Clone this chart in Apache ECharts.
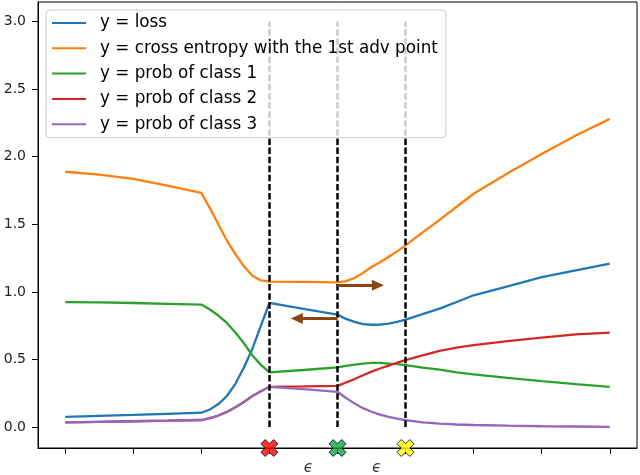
<!DOCTYPE html>
<html><head><meta charset="utf-8">
<script src="https://cdn.jsdelivr.net/npm/echarts@6/dist/echarts.min.js"></script>
<style>html,body{margin:0;padding:0;background:#fff}#c{width:640px;height:475px}</style>
</head><body><div id="c"></div>
<script>
// ---- data ----
const xs        = [0, 0.5, 1, 1.5, 2, 2.125, 2.25, 2.375, 2.5, 2.625, 2.75, 2.875, 3, 3.5, 4, 4.125, 4.25, 4.375, 4.5, 4.625, 4.75, 4.875, 5, 5.25, 5.5, 5.75, 6, 6.5, 7, 7.5, 8];
const loss      = [0.076, 0.083, 0.09, 0.098, 0.106, 0.13, 0.17, 0.23, 0.32, 0.44, 0.58, 0.75, 0.918, 0.875, 0.832, 0.80, 0.778, 0.762, 0.757, 0.758, 0.766, 0.778, 0.795, 0.835, 0.876, 0.925, 0.975, 1.041, 1.11, 1.16, 1.209];
const crossEnt  = [1.889, 1.868, 1.837, 1.787, 1.733, 1.62, 1.50, 1.38, 1.28, 1.19, 1.12, 1.085, 1.076, 1.074, 1.071, 1.08, 1.103, 1.14, 1.184, 1.22, 1.258, 1.30, 1.344, 1.44, 1.533, 1.63, 1.726, 1.878, 2.021, 2.157, 2.28];
const probC1    = [0.925, 0.922, 0.918, 0.912, 0.906, 0.87, 0.825, 0.77, 0.70, 0.62, 0.53, 0.46, 0.404, 0.422, 0.441, 0.452, 0.462, 0.47, 0.475, 0.475, 0.47, 0.465, 0.458, 0.44, 0.425, 0.405, 0.39, 0.364, 0.34, 0.318, 0.298];
const probC2    = [0.035, 0.039, 0.043, 0.047, 0.052, 0.066, 0.085, 0.112, 0.146, 0.185, 0.23, 0.265, 0.298, 0.301, 0.305, 0.33, 0.355, 0.383, 0.41, 0.433, 0.455, 0.476, 0.495, 0.53, 0.564, 0.587, 0.606, 0.635, 0.662, 0.685, 0.699];
const probC3    = [0.035, 0.039, 0.043, 0.047, 0.052, 0.066, 0.085, 0.112, 0.146, 0.185, 0.23, 0.265, 0.298, 0.28, 0.261, 0.215, 0.175, 0.14, 0.113, 0.092, 0.076, 0.063, 0.052, 0.035, 0.025, 0.019, 0.015, 0.01, 0.006, 0.004, 0.002];
const seriesNames = ['y = loss', 'y = cross entropy with the 1st adv point', 'y = prob of class 1', 'y = prob of class 2', 'y = prob of class 3'];
const xTicks = [0, 1, 2, 3, 4, 5, 6, 7, 8];
const yTicks = [0, 0.5, 1, 1.5, 2, 2.5, 3];
const advX = [3, 4, 5];                 // dashed verticals & cross markers
const advColors = ['#ff0000', '#10a844', '#ffff00'];
const vlineRange = [0, 3];
const epsX = [3.5, 4.5];
const arrowRight = [[4, 1.049], [4.593, 1.049]];
const arrowLeft  = [[4, 0.803], [3.402, 0.803]];
const X_MIN = -0.4, X_MAX = 8.4, Y_MIN = -0.155, Y_MAX = 3.145;

const colors = ['#1f77b4', '#ff7f0e', '#2ca02c', '#d62728', '#9467bd'];
const values = [loss, crossEnt, probC1, probC2, probC3];
const pair = arr => xs.map((x, i) => [x, arr[i]]);
const FONT = 'DejaVu Sans';

const lineSeries = values.map((v, i) => ({
  name: seriesNames[i], type: 'line', data: pair(v), symbol: 'none',
  lineStyle: { color: colors[i], width: 2.3 }, itemStyle: { color: colors[i] },
  z: 3
}));

const xPath = 'path://M0,2.5L2.5,0L5,2.5L7.5,0L10,2.5L7.5,5L10,7.5L7.5,10L5,7.5L2.5,10L0,7.5L2.5,5Z';
const triPath = 'path://M5,0L10,10L0,10Z';

const option = {
  animation: false,
  backgroundColor: '#fff',
  grid: { left: 38, right: 3, top: 2, bottom: 27, show: true, borderColor: '#000', borderWidth: 1, containLabel: false },
  xAxis: {
    type: 'value', min: X_MIN, max: X_MAX,
    axisLine: { show: true, onZero: false, lineStyle: { color: '#000', width: 1 } },
    axisTick: { show: true, length: 6, customValues: xTicks, lineStyle: { color: '#000' } },
    axisLabel: { show: false },
    splitLine: { show: false }
  },
  yAxis: {
    type: 'value', min: Y_MIN, max: Y_MAX,
    axisLine: { show: true, onZero: false, lineStyle: { color: '#000', width: 1 } },
    axisTick: { show: true, length: 6, customValues: yTicks, lineStyle: { color: '#000' } },
    axisLabel: { show: true, customValues: yTicks, margin: 12, fontSize: 14, fontFamily: FONT, color: '#222',
      formatter: v => v.toFixed(1) },
    splitLine: { show: false }
  },
  legend: {
    data: seriesNames.map((n, i) => ({ name: n, icon: 'rect', itemStyle: { color: colors[i] } })),
    orient: 'vertical', left: 46, top: 10,
    padding: [3.5, 8, 4, 6], itemGap: 6.3, itemWidth: 34, itemHeight: 2,
    backgroundColor: 'rgba(255,255,255,0.8)', borderColor: '#cccccc', borderWidth: 1, borderRadius: 4,
    textStyle: { fontSize: 16.8, fontFamily: FONT, color: '#000', lineHeight: 19, padding: [0, 0, 0, 9] },
    z: 10
  },
  series: [
    ...lineSeries,
    {
      name: 'vlines', type: 'line', data: [], symbol: 'none', silent: true, z: 2,
      markLine: {
        silent: true, symbol: ['none', 'none'], animation: false,
        label: { show: false },
        lineStyle: { color: '#000', width: 2.5, type: [6.5, 2.6] },
        data: advX.map(x => [{ coord: [x, vlineRange[0]] }, { coord: [x, vlineRange[1]] }])
      }
    },
    {
      name: 'arrows', type: 'line', data: [], symbol: 'none', silent: true, z: 5,
      markLine: {
        silent: true, symbol: ['none', triPath], symbolSize: [11, 12], animation: false,
        label: { show: false },
        lineStyle: { color: '#8B4513', width: 3.2, type: 'solid' },
        itemStyle: { color: '#8B4513' },
        data: [
          [{ coord: arrowRight[0] }, { coord: arrowRight[1] }],
          [{ coord: arrowLeft[0] }, { coord: arrowLeft[1] }]
        ]
      }
    },
    {
      name: 'adv', type: 'scatter', clip: false, symbol: xPath, symbolSize: 17, z: 6,
      data: advX.map((x, i) => ({ value: [x, Y_MIN], itemStyle: { color: advColors[i], borderColor: '#000', borderWidth: 1 } }))
    },
    {
      name: 'eps', type: 'scatter', clip: false, symbolSize: 0, z: 6, silent: true,
      data: epsX.map(x => [x, Y_MIN]),
      label: { show: true, formatter: 'ϵ', position: 'inside', offset: [5, 20],
        fontSize: 15, fontFamily: FONT, fontStyle: 'italic', color: '#000' }
    }
  ]
};

const chart = echarts.init(document.getElementById('c'), null, { renderer: 'canvas' });
chart.setOption(option);
</script>
</body></html>
